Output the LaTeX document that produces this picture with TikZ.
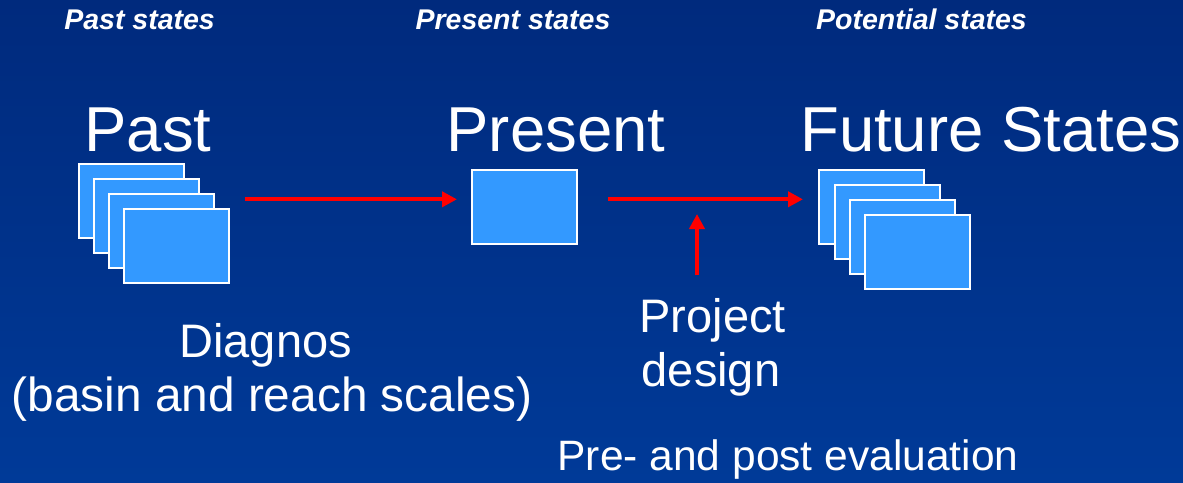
\documentclass[tikz,border=0pt]{standalone}
\usepackage{fontspec}
\setmainfont{Liberation Sans}
\usetikzlibrary{arrows.meta}

\definecolor{bgtop}{RGB}{0,42,125}
\definecolor{bgbottom}{RGB}{0,58,152}
\definecolor{boxblue}{RGB}{51,153,255}
\definecolor{arrred}{RGB}{255,0,0}

\tikzset{
  card/.style={rectangle, draw=white, line width=2pt, fill=boxblue,
               minimum width=105pt, minimum height=74pt, inner sep=0pt},
  header/.style={text=white, anchor=base, inner sep=0pt,
                 font=\fontsize{28.5}{34}\selectfont\bfseries\itshape},
  title/.style={text=white, anchor=base, inner sep=0pt,
                font=\fontsize{63.5}{76}\selectfont},
  label/.style={text=white, anchor=base, inner sep=0pt,
                font=\fontsize{47}{56}\selectfont},
  smalllabel/.style={text=white, anchor=base, inner sep=0pt,
                     font=\fontsize{42.5}{51}\selectfont},
  arr/.style={draw=arrred, line width=4.3pt,
              -{Triangle[length=15pt, width=15pt]}},
}

\begin{document}
\begin{tikzpicture}[x=1pt, y=-1pt]
  % background
  \shade[top color=bgtop, bottom color=bgbottom] (0,0) rectangle (1183,482);
  \useasboundingbox (0,0) rectangle (1183,482);

  % column headers
  \node[header] (hpast) at (139.6,29.5) {Past states};
  \node[header] (hpres) at (513,29.5) {Present states};
  \node[header] (hpot)  at (921.5,29.5) {Potential states};

  % large titles
  \node[title] (tpast) at (148,151) {Past};
  \node[title] (tpres) at (556,151) {Present};
  \node[title] (tfut)  at (990.8,151) {Future States};

  % stacked cards: past
  \node[card] (past1) at (131.5,201) {};
  \node[card] (past2) at (146.5,216) {};
  \node[card] (past3) at (161.5,231) {};
  \node[card] (past4) at (176.5,246) {};

  % single card: present
  \node[card] (pres) at (524.5,207) {};

  % stacked cards: future
  \node[card] (fut1) at (871.5,207) {};
  \node[card] (fut2) at (887.5,222) {};
  \node[card] (fut3) at (902.5,237) {};
  \node[card] (fut4) at (917.5,252) {};

  % connectors
  \coordinate (lvl) at (0,199.3);
  \draw[arr, shorten <=15pt, shorten >=14pt] (past4.east |- lvl) -- (pres.west |- lvl);
  \draw[arr, shorten <=30pt, shorten >=15pt] (pres.east |- lvl) -- (fut1.west |- lvl);
  \coordinate (vbot) at (697,275);
  \coordinate (vtop) at (697,214);
  \draw[arr] (vbot) -- (vtop);

  % captions
  \node[label] (diag1) at (265.7,357.5) {Diagnos};
  \node[label, font=\fontsize{47.8}{57}\selectfont] (diag2) at (272,411.5) {(basin and reach scales)};
  \node[label] (proj1) at (712.7,332) {Project};
  \node[label] (proj2) at (711,386.5) {design};
  \node[smalllabel] (eval) at (788,470) {Pre- and post evaluation};
\end{tikzpicture}
\end{document}
